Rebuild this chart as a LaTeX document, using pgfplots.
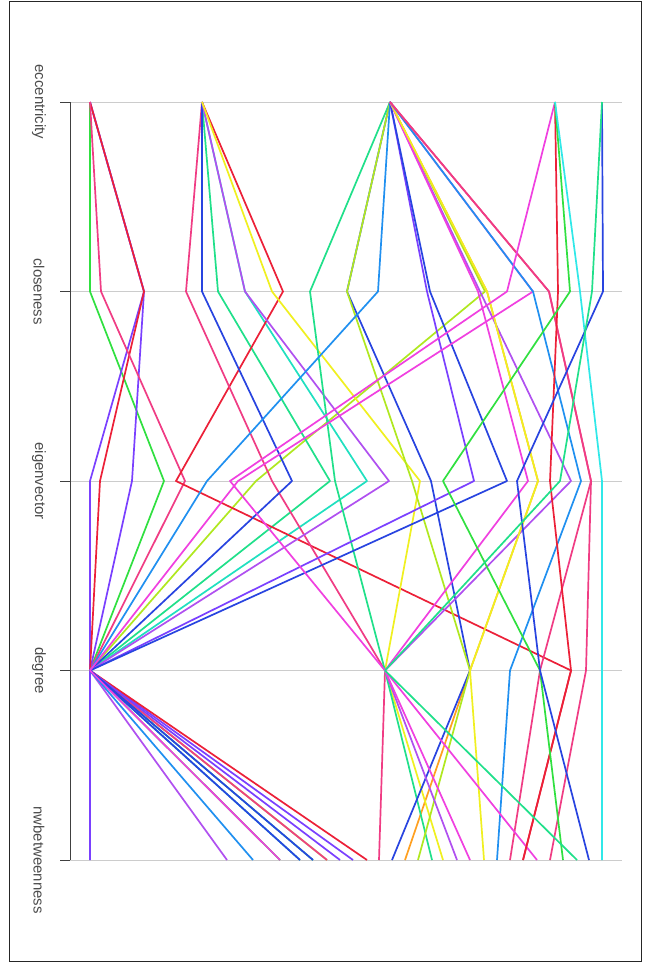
\documentclass[border=0pt]{standalone}
\usepackage{pgfplots}
\pgfplotsset{compat=1.18}
\usepackage{fontspec}
\setmainfont{Liberation Sans}
\definecolor{cPurple}{HTML}{7A40FF}
\definecolor{cRed}{HTML}{EC2038}
\definecolor{cPink}{HTML}{F03C84}
\definecolor{cMag}{HTML}{F040E0}
\definecolor{cGreen}{HTML}{30E040}
\definecolor{cTealG}{HTML}{20E08A}
\definecolor{cTeal}{HTML}{20E0C0}
\definecolor{cCyan}{HTML}{30E8E8}
\definecolor{cAzure}{HTML}{2090F0}
\definecolor{cBlue}{HTML}{2844E0}
\definecolor{cYellow}{HTML}{F0F020}
\definecolor{cYG}{HTML}{B0E820}
\definecolor{cOrange}{HTML}{FFA020}
\definecolor{cViolet}{HTML}{B050F0}
\begin{document}
\begin{tikzpicture}
\begin{axis}[
  width=648bp, height=962bp, scale only axis,
  xmin=0, xmax=648, ymin=-0.5383, ymax=4.5383, y dir=reverse,
  axis lines=none, ticks=none, clip=false,
  every axis plot/.append style={line width=1.7bp, line join=round},
]
\fill[white] (rel axis cs:0,0) rectangle (rel axis cs:1,1);
\draw[black!85, line width=0.9bp] (axis cs:9,-0.533) rectangle (axis cs:641,4.533);
% axis rules
\draw[black!20, line width=0.8bp] (axis cs:70,0) -- (axis cs:622,0);
\draw[black!20, line width=0.8bp] (axis cs:70,1) -- (axis cs:622,1);
\draw[black!20, line width=0.8bp] (axis cs:70,2) -- (axis cs:622,2);
\draw[black!20, line width=0.8bp] (axis cs:70,3) -- (axis cs:622,3);
\draw[black!20, line width=0.8bp] (axis cs:70,4) -- (axis cs:622,4);
\draw[black!75, line width=0.8bp] (axis cs:70,0) -- (axis cs:70,4);
\draw[black!75, line width=0.8bp] (axis cs:60,0) -- (axis cs:70,0);
\draw[black!75, line width=0.8bp] (axis cs:60,1) -- (axis cs:70,1);
\draw[black!75, line width=0.8bp] (axis cs:60,2) -- (axis cs:70,2);
\draw[black!75, line width=0.8bp] (axis cs:60,3) -- (axis cs:70,3);
\draw[black!75, line width=0.8bp] (axis cs:60,4) -- (axis cs:70,4);
% labels
\node[rotate=-90, font=\fontsize{15}{18}\selectfont, text=black!70] at (axis cs:39,0) {eccentricity};
\node[rotate=-90, font=\fontsize{15}{18}\selectfont, text=black!70] at (axis cs:39,1) {closeness};
\node[rotate=-90, font=\fontsize{15}{18}\selectfont, text=black!70] at (axis cs:39,2) {eigenvector};
\node[rotate=-90, font=\fontsize{15}{18}\selectfont, text=black!70] at (axis cs:39,3) {degree};
\node[rotate=-90, font=\fontsize{15}{18}\selectfont, text=black!70] at (axis cs:39,4) {nwbetweenness};
% hidden lines first
\addplot[cGreen] coordinates {(90,0)(90,1)(164,2)(90,3)(280,4)};
\addplot[cYG] coordinates {(390,0)(485,1)(256,2)(90,3)(327,4)};
\addplot[cTealG] coordinates {(202,0)(218,1)(330,2)(90,3)(313,4)};
\addplot[cTeal] coordinates {(202,0)(245,1)(367,2)(90,3)(300,4)};
\addplot[cOrange] coordinates {(390,0)(487,1)(538,2)(470,3)(405,4)};
% main lines
\addplot[cPurple] coordinates {(90,0)(144,1)(90,2)(90,3)(90,4)};
\addplot[cPurple] coordinates {(90,0)(144,1)(132,2)(90,3)(353,4)};
\addplot[cRed] coordinates {(90,0)(144,1)(100,2)(90,3)(367,4)};
\addplot[cPink] coordinates {(90,0)(101,1)(185,2)(90,3)(327,4)};
\addplot[cRed] coordinates {(202,0)(283,1)(176,2)(571,3)(523,4)};
\addplot[cPink] coordinates {(202,0)(186,1)(272,2)(385,3)(379,4)};
\addplot[cBlue] coordinates {(202,0)(202,1)(292,2)(90,3)(300,4)};
\addplot[cViolet] coordinates {(202,0)(245,1)(389,2)(90,3)(227,4)};
\addplot[cYellow] coordinates {(202,0)(272,1)(420,2)(385,3)(443,4)};
\addplot[cTealG] coordinates {(390,0)(310,1)(335,2)(385,3)(432,4)};
\addplot[cBlue] coordinates {(390,0)(347,1)(431,2)(470,3)(392,4)};
\addplot[cYG] coordinates {(390,0)(347,1)(412,2)(470,3)(418,4)};
\addplot[cAzure] coordinates {(390,0)(378,1)(207,2)(90,3)(253,4)};
\addplot[cPurple] coordinates {(390,0)(427,1)(474,2)(90,3)(340,4)};
\addplot[cBlue] coordinates {(390,0)(430,1)(507,2)(90,3)(313,4)};
\addplot[cViolet] coordinates {(390,0)(480,1)(571,2)(385,3)(457,4)};
\addplot[cMag] coordinates {(390,0)(478,1)(528,2)(385,3)(470,4)};
\addplot[cYellow] coordinates {(390,0)(487,1)(538,2)(470,3)(484,4)};
\addplot[cMag] coordinates {(390,0)(533,1)(238,2)(90,3)(280,4)};
\addplot[cAzure] coordinates {(390,0)(533,1)(581,2)(510,3)(497,4)};
\addplot[cPink] coordinates {(390,0)(549,1)(591,2)(586,3)(550,4)};
\addplot[cPink] coordinates {(390,0)(549,1)(591,2)(540,3)(510,4)};
\addplot[cMag] coordinates {(555,0)(507,1)(230,2)(385,3)(537,4)};
\addplot[cRed] coordinates {(555,0)(558,1)(550,2)(571,3)(523,4)};
\addplot[cGreen] coordinates {(555,0)(570,1)(443,2)(540,3)(563,4)};
\addplot[cCyan] coordinates {(555,0)(580,1)(602,2)(602,3)(602,4)};
\addplot[cBlue] coordinates {(602,0)(603,1)(517,2)(540,3)(589,4)};
\addplot[cTealG] coordinates {(602,0)(592,1)(560,2)(385,3)(577,4)};
\end{axis}
\end{tikzpicture}
\end{document}
